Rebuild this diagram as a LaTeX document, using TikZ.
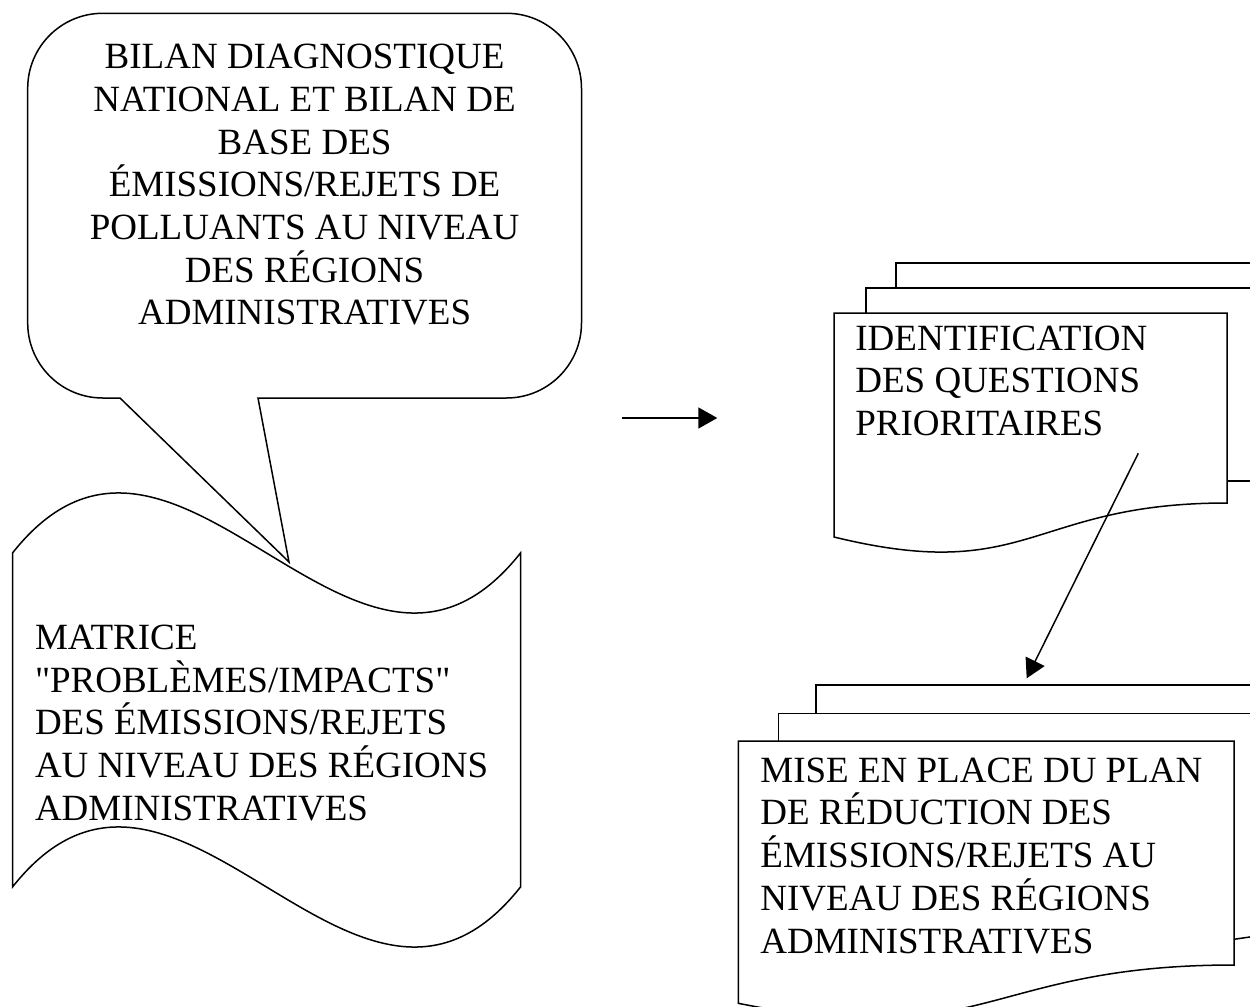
\documentclass[tikz,border=0pt]{standalone}
\usepackage{fontspec}
\setmainfont{Liberation Serif}[Ligatures=TeXOff]
\usetikzlibrary{arrows.meta}
\begin{document}
\begin{tikzpicture}[x=0.5pt,y=-0.5pt,
  shapeline/.style={draw=black,line width=0.75pt,line join=miter},
  lbl/.style={inner sep=0pt,font=\fontsize{18.5pt}{21.35pt}\selectfont},
  conn/.style={line width=0.75pt,-{Triangle[length=9.5pt,width=10.5pt]}}]
\fill[white] (0,0) rectangle (1250,1007);
\useasboundingbox (0,0) rectangle (1250,1007);
\clip (0,0) rectangle (1250,1007);

% callout
\def\rr{75}
\draw[shapeline] (120,398) -- (27.7+\rr,398) arc[start angle=90,end angle=180,radius=\rr]
  -- (27.7,13.3+\rr) arc[start angle=180,end angle=270,radius=\rr]
  -- (581.5-\rr,13.3) arc[start angle=270,end angle=360,radius=\rr]
  -- (581.5,398-\rr) arc[start angle=0,end angle=90,radius=\rr]
  -- (258,398) -- (289,562) -- cycle;
\node[lbl,align=center] (bilan) at (304.6,184.75) {BILAN DIAGNOSTIQUE\\NATIONAL ET BILAN DE\\BASE DES\\ÉMISSIONS/REJETS DE\\POLLUANTS AU NIVEAU\\DES RÉGIONS\\ADMINISTRATIVES};

% banner (punched tape)
\draw[shapeline] (12.5,553) .. controls (177,345) and (356,761) .. (520.5,553)
  -- (520.5,887) .. controls (356,1095) and (177,679) .. (12.5,887) -- cycle;
\node[lbl,align=left,anchor=west] (matrice) at (34.6,722.75) {MATRICE\\"PROBLÈMES/IMPACTS"\\DES ÉMISSIONS/REJETS\\AU NIVEAU DES RÉGIONS\\ADMINISTRATIVES};

% top-right multidocument
\draw[shapeline] (896,288) -- (896,263) -- (1260,263);
\draw[shapeline] (866,313) -- (866,288) -- (1260,288);
\draw[shapeline] (1227,481) -- (1260,481);
\draw[shapeline] (834,313) -- (1227,313) -- (1227,503) .. controls (1030,503) and (1030,585) .. (834,537) -- cycle;
\node[lbl,align=left,anchor=west] (ident) at (855,380.7) {IDENTIFICATION\\DES QUESTIONS\\PRIORITAIRES};

% bottom-right multidocument
\draw[shapeline] (816,713.3) -- (816,685) -- (1260,685);
\draw[shapeline] (778.3,741) -- (778.3,713.3) -- (1260,713.3);
\draw[shapeline] (1234,939.3) -- (1260,935.5);
\draw[shapeline] (738.3,741) -- (1234,741) -- (1234,965) .. controls (986,965) and (986,1053) .. (738.3,1003.3) -- cycle;
\node[lbl,align=left,anchor=west] (mise) at (760,855.7) {MISE EN PLACE DU PLAN\\DE RÉDUCTION DES\\ÉMISSIONS/REJETS AU\\NIVEAU DES RÉGIONS\\ADMINISTRATIVES};

% connectors
\coordinate (h1) at (622,418);
\coordinate (h2) at (717.3,418);
\draw[conn] (h1) -- (h2);
\coordinate (d1) at (1138.3,453.3);
\coordinate (d2) at (1026.7,678.3);
\draw[conn] (d1) -- (d2);
\end{tikzpicture}
\end{document}
